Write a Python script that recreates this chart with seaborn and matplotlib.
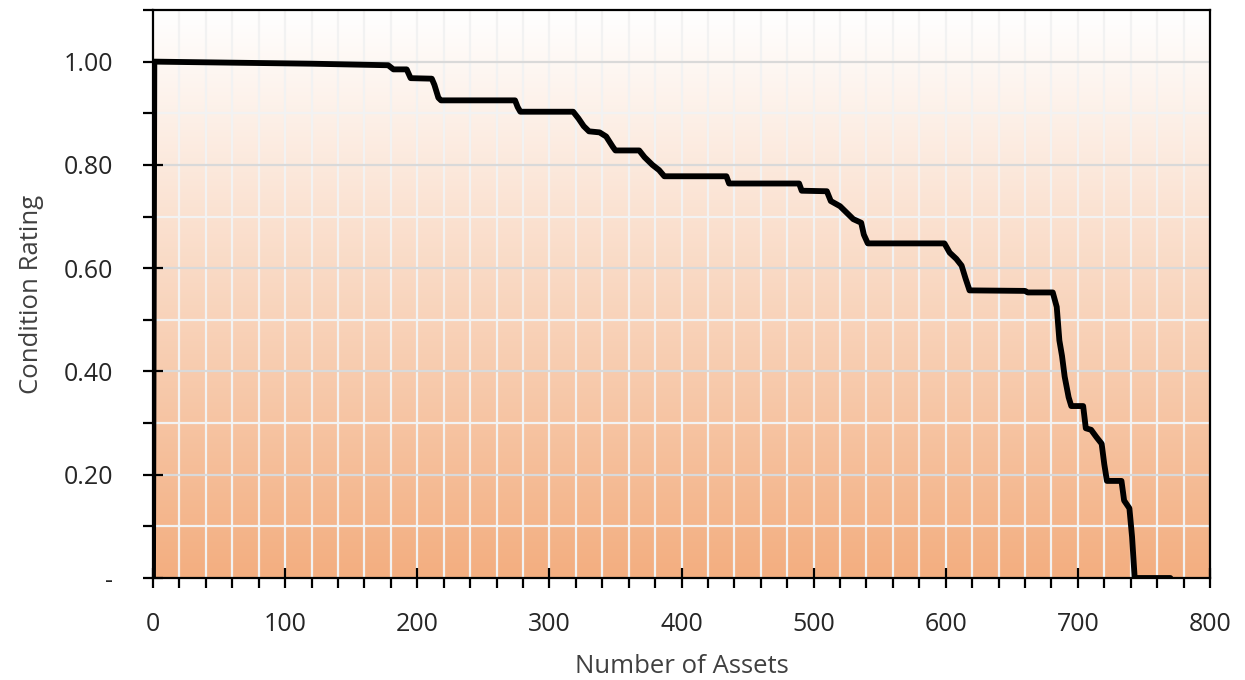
import numpy as np
import pandas as pd
import matplotlib
matplotlib.use("Agg")
import matplotlib.pyplot as plt
import seaborn as sns
from matplotlib.colors import LinearSegmentedColormap
from matplotlib.ticker import MultipleLocator, FuncFormatter

# breakpoints of the sorted condition curve
asset_count = [0, 1, 60, 120, 178, 182, 192, 195, 211, 213, 216, 218, 274, 276, 278,
               318, 322, 326, 330, 338, 343, 348, 350, 368, 372, 378, 383, 387, 434,
               436, 489, 491, 510, 513, 520, 526, 530, 536, 538, 541, 599, 603, 608,
               612, 615, 618, 660, 662, 681, 684, 686, 688, 690, 693, 695, 704, 706,
               710, 714, 718, 720, 722, 733, 735, 739, 741, 743, 770]
condition = [0.0, 1.0, 0.998, 0.996, 0.993, 0.985, 0.985, 0.968, 0.967, 0.955, 0.93, 0.925,
             0.925, 0.912, 0.903, 0.903, 0.89, 0.875, 0.865, 0.863, 0.855, 0.835, 0.828,
             0.828, 0.815, 0.80, 0.79, 0.778, 0.778, 0.764, 0.764, 0.750, 0.749, 0.73,
             0.72, 0.705, 0.695, 0.688, 0.665, 0.648, 0.648, 0.63, 0.618, 0.605, 0.58,
             0.557, 0.556, 0.553, 0.553, 0.525, 0.46, 0.43, 0.39, 0.35, 0.333, 0.333,
             0.29, 0.287, 0.273, 0.26, 0.22, 0.188, 0.188, 0.15, 0.135, 0.08, 0.0, 0.0]

df = pd.DataFrame({"assets": asset_count, "rating": condition})

sns.set_style("white")
plt.rcParams["font.family"] = ["Open Sans", "DejaVu Sans"]

fig = plt.figure(figsize=(12.45, 6.8), dpi=100)
ax = fig.add_axes([153 / 1245, 1 - 578 / 680, (1210 - 153) / 1245, (578 - 10) / 680])

# white-to-orange vertical gradient behind the plot
cmap = LinearSegmentedColormap.from_list("bg", ["#F3AE80", "#FFFFFF"])
grad = np.linspace(0, 1, 256).reshape(-1, 1)
ax.imshow(grad, cmap=cmap, origin="lower", aspect="auto",
          extent=[0, 800, 0, 1.1], zorder=0)

# grid: white every 20 / 0.1, light grey at major y
for xv in range(20, 800, 20):
    ax.axvline(xv, color="#F2F2F2", lw=1.6, zorder=0.5)
for yv in np.arange(0.1, 1.1, 0.1):
    major = round(yv * 10) % 2 == 0
    ax.axhline(yv, color="#D9D9D9" if major else "#F2F2F2", lw=1.6, zorder=0.5)

sns.lineplot(data=df, x="assets", y="rating", sort=False, estimator=None,
             color="black", lw=4.2, ax=ax, zorder=3)

ax.set_xlim(0, 800)
ax.set_ylim(0, 1.1)
ax.xaxis.set_major_locator(MultipleLocator(100))
ax.xaxis.set_minor_locator(MultipleLocator(20))
ax.yaxis.set_major_locator(MultipleLocator(0.2))
ax.yaxis.set_minor_locator(MultipleLocator(0.1))
ax.yaxis.set_major_formatter(FuncFormatter(lambda v, p: "-" if abs(v) < 1e-9 else f"{v:.2f}"))
ax.set_yticks([0, 0.2, 0.4, 0.6, 0.8, 1.0])

for s in ax.spines.values():
    s.set_color("black")
    s.set_linewidth(1.6)

ax.tick_params(axis="both", which="major", direction="inout", length=15, width=1.6,
               color="black", labelsize=18, labelcolor="#262626")
ax.tick_params(axis="both", which="minor", direction="out", length=7.5, width=1.6,
               color="black")
ax.tick_params(axis="y", which="major", pad=21, left=True)
ax.tick_params(axis="x", which="major", pad=17, bottom=True)
ax.tick_params(axis="y", which="minor", left=True)
ax.tick_params(axis="x", which="minor", bottom=True)

ax.set_xlabel("Number of Assets", fontsize=18.5, color="#404040", labelpad=12)
ax.set_ylabel("Condition Rating", fontsize=18.5, color="#404040", labelpad=14)

fig.savefig("out.png", dpi=100)
plt.close(fig)
